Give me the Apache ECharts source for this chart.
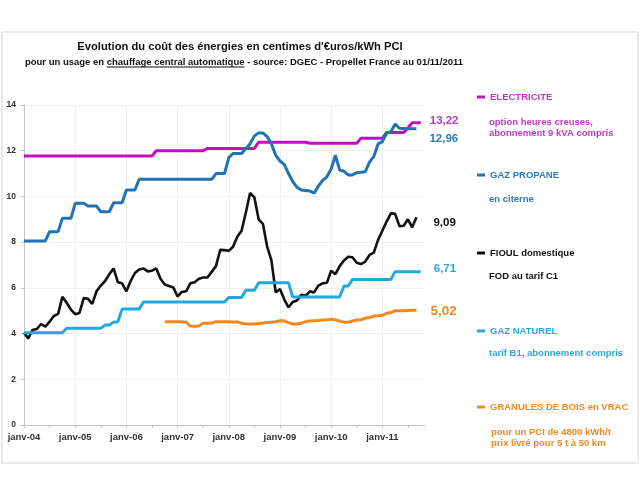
<!DOCTYPE html>
<html>
<head>
<meta charset="utf-8">
<script src="https://cdn.jsdelivr.net/npm/echarts@6/dist/echarts.min.js"></script>
<style>
html,body{margin:0;padding:0;background:#fff;}
#c{width:640px;height:480px;}
</style>
</head>
<body>
<div id="c"></div>
<script>
// ---- Data ----
var monthNames = ['janv','févr','mars','avr','mai','juin','juil','août','sept','oct','nov','déc'];
var years = ['04','05','06','07','08','09','10','11'];
var seriesNames = ['ELECTRICITE','GAZ PROPANE','FIOUL domestique','GAZ NATUREL','GRANULES DE BOIS en VRAC'];

var electricite = [
11.77,11.77,11.77,11.77,11.77,11.77,11.77,11.77,11.77,11.77,
11.77,11.77,11.77,11.77,11.77,11.77,11.77,11.77,11.77,11.77,
11.77,11.77,11.77,11.77,11.77,11.77,11.77,11.77,11.77,11.77,
11.77,12.0,12.0,12.0,12.0,12.0,12.0,12.0,12.0,12.0,
12.0,12.0,12.0,12.1,12.1,12.1,12.1,12.1,12.1,12.1,
12.1,12.1,12.1,12.1,12.1,12.37,12.37,12.37,12.37,12.37,
12.37,12.37,12.37,12.37,12.37,12.37,12.37,12.33,12.33,12.33,
12.33,12.33,12.33,12.33,12.33,12.33,12.33,12.33,12.33,12.55,
12.55,12.55,12.55,12.55,12.55,12.8,12.8,12.8,12.8,12.8,
13.0,13.22,13.22,13.22];

var gazPropane = [
8.05,8.05,8.05,8.05,8.05,8.05,8.46,8.46,8.46,9.04,
9.04,9.04,9.7,9.7,9.7,9.58,9.58,9.58,9.33,9.33,
9.33,9.72,9.72,9.72,10.28,10.28,10.28,10.75,10.75,10.75,
10.75,10.75,10.75,10.75,10.75,10.75,10.75,10.75,10.75,10.75,
10.75,10.75,10.75,10.75,10.75,11.0,11.0,11.0,11.7,11.88,
11.88,11.88,12.1,12.3,12.65,12.78,12.78,12.62,12.3,11.8,
11.55,11.4,11.0,10.65,10.4,10.28,10.26,10.24,10.14,10.45,
10.7,10.86,11.2,11.8,11.15,11.1,10.94,10.94,11.04,11.06,
11.08,11.5,11.75,12.3,12.4,12.76,12.83,13.17,12.98,12.97,
12.97,12.96,12.96];

var fioul = [
4.04,3.79,4.16,4.2,4.42,4.3,4.52,4.77,4.86,5.61,
5.35,5.05,4.85,4.9,5.55,5.52,5.3,5.85,6.1,6.3,
6.6,6.85,6.25,6.2,5.85,6.3,6.65,6.8,6.85,6.72,
6.75,6.85,6.4,6.15,6.08,6.02,5.62,5.82,5.85,6.2,
6.25,6.4,6.45,6.45,6.7,6.95,7.66,7.65,7.62,7.8,
8.24,8.5,9.3,10.15,9.96,9.0,8.8,7.8,7.2,5.8,
5.95,5.5,5.15,5.38,5.45,5.7,5.65,5.85,5.8,6.1,
6.2,6.22,6.75,6.6,6.95,7.2,7.36,7.34,7.1,7.04,
7.15,7.44,7.54,8.1,8.5,8.9,9.26,9.24,8.7,8.72,
9.0,8.65,9.09];

var gazNaturel = [
4.04,4.04,4.04,4.04,4.04,4.04,4.04,4.04,4.04,4.04,
4.23,4.23,4.23,4.23,4.23,4.23,4.23,4.23,4.23,4.37,
4.37,4.5,4.52,5.07,5.07,5.07,5.07,5.07,5.38,5.38,
5.38,5.38,5.38,5.38,5.38,5.38,5.38,5.38,5.38,5.38,
5.38,5.38,5.38,5.38,5.38,5.38,5.38,5.38,5.58,5.58,
5.58,5.58,5.9,5.9,5.9,6.22,6.22,6.22,6.22,6.22,
6.22,6.22,6.22,5.6,5.6,5.6,5.6,5.6,5.6,5.6,
5.6,5.6,5.6,5.6,5.6,6.08,6.08,6.37,6.37,6.37,
6.37,6.37,6.37,6.37,6.37,6.37,6.37,6.71,6.71,6.71,
6.71,6.71,6.71,6.71];

var granules = [
null,null,null,null,null,null,null,null,null,null,
null,null,null,null,null,null,null,null,null,null,
null,null,null,null,null,null,null,null,null,null,
null,null,null,4.52,4.52,4.52,4.52,4.52,4.5,4.33,
4.32,4.33,4.45,4.45,4.46,4.52,4.52,4.52,4.52,4.51,
4.51,4.45,4.42,4.42,4.42,4.44,4.46,4.48,4.5,4.52,
4.56,4.56,4.48,4.42,4.42,4.45,4.52,4.55,4.56,4.57,
4.59,4.6,4.63,4.6,4.55,4.5,4.5,4.55,4.59,4.6,
4.68,4.7,4.77,4.78,4.8,4.89,4.92,5.0,5.0,5.0,
5.01,5.02,5.02];

var yTicks = [0,2,4,6,8,10,12,14];

// ---- Build categories (janv-04 .. nov-11) ----
var categories = [];
for (var yi = 0; yi < years.length; yi++) {
  for (var mi = 0; mi < 12; mi++) {
    if (yi === years.length - 1 && mi > 10) break;
    categories.push(monthNames[mi] + '-' + years[yi]);
  }
}

var FONT = 'Arial, "Liberation Sans", sans-serif';
var colors = {
  elec: '#c40cc4', elecText: '#c038c4',
  prop: '#2273b5', propText: '#2f7ab8',
  fioul: '#111111', fioulText: '#111111',
  nat: '#22a8dc', natText: '#2aa8dc',
  gran: '#f0891f', granText: '#ee8a26'
};

function fmt(v) { return v.toFixed(2).replace('.', ','); }

function mkSeries(name, data, color, textColor, offset, fs, lw) {
  return {
    name: name, type: 'line', data: data, showSymbol: false, smooth: false,
    connectNulls: false, silent: true, animation: false,
    lineStyle: { color: color, width: lw || 3 },
    itemStyle: { color: color },
    endLabel: {
      show: true, distance: 0, offset: offset,
      formatter: function (p) { return fmt(p.value); },
      color: textColor, fontFamily: FONT, fontWeight: 'bold', fontSize: fs || 11.5
    }
  };
}

// measure subtitle parts for underline
var cv = document.createElement('canvas').getContext('2d');
var subFont = 'bold 9.5px ' + FONT;
cv.font = subFont;
var sp1 = 'pour un usage en ', sp2 = 'chauffage central automatique', sp3 = ' - source: DGEC - Propellet France au 01/11/2011';
var w1 = cv.measureText(sp1).width, w2 = cv.measureText(sp2).width, w3 = cv.measureText(sp3).width;
var subCx = 244, subY = 62;
var subStart = subCx - (w1 + w2 + w3) / 2;

function legendFor(name, top, color) {
  return {
    data: [name], left: 477, top: top, orient: 'horizontal',
    icon: 'rect', itemWidth: 8, itemHeight: 3, padding: 0, selectedMode: false,
    textStyle: { color: color, fontFamily: FONT, fontWeight: 'bold', fontSize: 9.5 }
  };
}
function txt(x, y, s, color, size) {
  return { type: 'text', x: x, y: y, silent: true,
    style: { text: s, fill: color, font: 'bold ' + (size || 9.5) + 'px ' + FONT, textVerticalAlign: 'middle', textAlign: 'left' } };
}

var chart = echarts.init(document.getElementById('c'), null, { renderer: 'canvas' });
chart.setOption({
  animation: false,
  backgroundColor: '#ffffff',
  grid: { left: 24, right: 215, top: 105, bottom: 55, containLabel: false },
  xAxis: {
    type: 'category', data: categories, boundaryGap: false,
    axisLine: { lineStyle: { color: '#c4c4c4', width: 1 } },
    axisTick: { show: true, interval: 5, length: 3, lineStyle: { color: '#c4c4c4' } },
    axisLabel: { interval: 11, color: '#333', fontFamily: FONT, fontWeight: 'bold', fontSize: 9.5, margin: 7 },
    splitLine: { show: true, interval: 11, lineStyle: { color: '#efefef', width: 1 } }
  },
  yAxis: {
    type: 'value', min: yTicks[0], max: yTicks[yTicks.length - 1], interval: 2,
    axisLine: { show: true, lineStyle: { color: '#c4c4c4', width: 1 } },
    axisTick: { show: true, length: 3, lineStyle: { color: '#c4c4c4' } },
    axisLabel: { color: '#333', fontFamily: FONT, fontWeight: 'bold', fontSize: 8.5, margin: 8 },
    splitLine: { show: true, lineStyle: { color: '#efefef', width: 1 } }
  },
  legend: [
    legendFor(seriesNames[0], 92, colors.elecText),
    legendFor(seriesNames[1], 170, colors.propText),
    legendFor(seriesNames[2], 248, colors.fioulText),
    legendFor(seriesNames[3], 326, colors.natText),
    legendFor(seriesNames[4], 402, colors.granText)
  ],
  graphic: [
    { type: 'rect', shape: { x: 2, y: 32, width: 636, height: 431 }, silent: true,
      style: { fill: 'none', stroke: '#d6d6d6', lineWidth: 1 } },
    { type: 'text', x: 240, y: 47, silent: true,
      style: { text: "Evolution du coût des énergies en centimes d'€uros/kWh PCI", fill: '#111',
        font: 'bold 11.2px ' + FONT, textAlign: 'center', textVerticalAlign: 'middle' } },
    { type: 'text', x: subStart, y: subY, silent: true,
      style: { text: sp1 + sp2 + sp3, fill: '#111', font: subFont, textAlign: 'left', textVerticalAlign: 'middle' } },
    { type: 'line', silent: true, shape: { x1: subStart + w1, y1: subY + 5, x2: subStart + w1 + w2, y2: subY + 5 },
      style: { stroke: '#111', lineWidth: 1 } },
    txt(489, 122, 'option heures creuses,', colors.elecText),
    txt(489, 133, 'abonnement 9 kVA compris', colors.elecText),
    txt(489, 199, 'en citerne', colors.propText),
    txt(489, 276, 'FOD au tarif C1', colors.fioulText),
    txt(489, 353, 'tarif B1, abonnement compris', colors.natText),
    txt(491, 432, 'pour un PCI de 4800 kWh/t', colors.granText),
    txt(491, 443, 'prix livré pour 5 t à 50 km', colors.granText)
  ],
  series: [
    mkSeries(seriesNames[0], electricite, colors.elec, colors.elecText, [9, -2], 11.5, 3),
    mkSeries(seriesNames[1], gazPropane, colors.prop, colors.propText, [13, 10.5], 11.5, 3),
    mkSeries(seriesNames[2], fioul, colors.fioul, colors.fioulText, [17, 6], 11.5, 2.6),
    mkSeries(seriesNames[3], gazNaturel, colors.nat, colors.natText, [13, -2.5], 11.5, 3),
    mkSeries(seriesNames[4], granules, colors.gran, colors.granText, [14, 1], 13.5, 3)
  ]
});
</script>
</body>
</html>
